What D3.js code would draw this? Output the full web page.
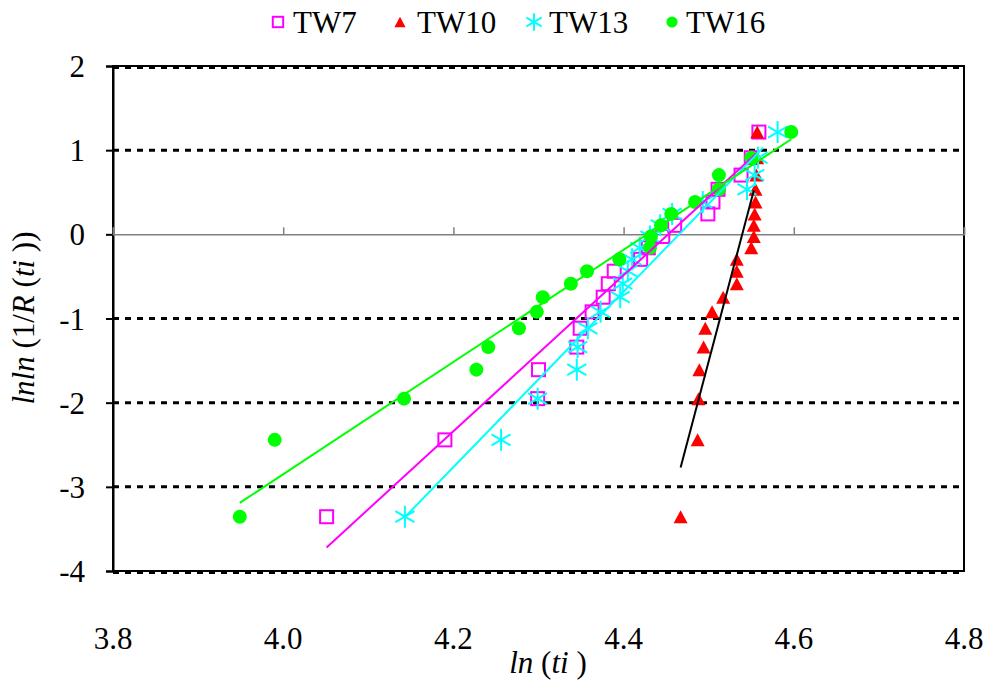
<!DOCTYPE html>
<html>
<head>
<meta charset="utf-8">
<script src="https://cdn.jsdelivr.net/npm/d3@7"></script>
<style>
  html, body { margin: 0; padding: 0; background: #fff; }
  svg { display: block; }
</style>
</head>
<body>
<svg id="chart" width="987" height="684"></svg>
<script>
// ---- data ----
const seriesNames = ["TW7", "TW10", "TW13", "TW16"];
// median-rank Weibull ordinates lnln(1/R(ti)), shared by all series (n = 20)
const yValues = [-3.355, -2.442, -1.952, -1.608, -1.340, -1.116, -0.921, -0.747, -0.587, -0.438,
                 -0.297, -0.160, -0.026, 0.107, 0.243, 0.384, 0.535, 0.704, 0.910, 1.215];
const tw7X  = [4.051, 4.190, 4.299, 4.300, 4.345, 4.349, 4.363, 4.376, 4.382, 4.389,
               4.420, 4.429, 4.446, 4.460, 4.499, 4.505, 4.511, 4.538, 4.550, 4.559];
const tw10X = [4.467, 4.487, 4.488, 4.489, 4.494, 4.496, 4.504, 4.517, 4.533, 4.533,
               4.533, 4.550, 4.553, 4.553, 4.554, 4.555, 4.555, 4.556, 4.557, 4.557];
const tw13X = [4.143, 4.256, 4.299, 4.345, 4.346, 4.358, 4.373, 4.396, 4.399, 4.405,
               4.410, 4.419, 4.431, 4.443, 4.457, 4.493, 4.545, 4.554, 4.558, 4.581];
const tw16X = [3.949, 3.990, 4.142, 4.227, 4.241, 4.277, 4.298, 4.305, 4.338, 4.357,
               4.395, 4.431, 4.432, 4.444, 4.456, 4.484, 4.512, 4.512, 4.550, 4.597];
// linear trend lines: [xStart, yStart, xEnd, yEnd]
const tw7Fit  = [4.051, -3.72, 4.556, 0.96];
const tw10Fit = [4.467, -2.77, 4.553, 0.52];
const tw13Fit = [4.143, -3.36, 4.564, 1.03];
const tw16Fit = [3.949, -3.19, 4.597, 1.13];
const xTicks = [3.8, 4.0, 4.2, 4.4, 4.6, 4.8];
const yTicks = [2, 1, 0, -1, -2, -3, -4];
const gridValues = [2, 1, -1, -2, -3, -4];

// ---- layout ----
const svg = d3.select("#chart");
const plotL = 113, plotR = 964, plotT = 66, plotB = 571;
const x = d3.scaleLinear().domain([3.8, 4.8]).range([plotL, plotR]);
const y = d3.scaleLinear().domain([-4, 2]).range([plotB, plotT]);
const SERIF = '"Liberation Serif", "Times New Roman", Tinos, Times, serif';
const FS = 31;
function serif(sel) {
  return sel.attr("font-family", "Liberation Serif")
    .style("font-family", SERIF, "important")
    .attr("font-size", FS).style("font-size", FS + "px").attr("fill", "#000");
}

const colors = { TW7: "#ff00ff", TW10: "#ff0000", TW13: "#00ffff", TW16: "#00ff00" };
const fitColors = { TW7: "#ff00ff", TW10: "#000000", TW13: "#00ffff", TW16: "#00ff00" };

// plot border
svg.append("rect").attr("x", plotL).attr("y", plotT).attr("width", plotR - plotL).attr("height", plotB - plotT)
  .attr("fill", "none").attr("stroke", "#000").attr("stroke-width", 2);

// dashed gridlines
svg.append("g").selectAll("line").data(gridValues).join("line")
  .attr("x1", plotL).attr("x2", plotR)
  .attr("y1", d => y(d) + (d === 2 || d === -4 ? 1.5 : 0))
  .attr("y2", d => y(d) + (d === 2 || d === -4 ? 1.5 : 0))
  .attr("stroke", "#000").attr("stroke-width", 3).attr("stroke-dasharray", "6,6");

// y axis (left) ticks and labels
const yAxis = d3.axisLeft(y).tickValues(yTicks).tickSize(7).tickPadding(21);
const gy = svg.append("g").attr("transform", `translate(${plotL},0)`).call(yAxis);
gy.attr("font-family", null).attr("font-size", null);
gy.select(".domain").attr("stroke", "#000").attr("stroke-width", 2);
gy.selectAll(".tick line").attr("stroke", "#000").attr("stroke-width", 2);
serif(gy.selectAll(".tick text")).attr("dy", "0.34em")
  .text(d => d < 0 ? "-" + Math.abs(d) : String(d));

// x axis at y = 0 (gray line, ticks upward), labels below the plot
const xAxis = d3.axisTop(x).tickValues(xTicks).tickSize(7).tickFormat("");
const gx = svg.append("g").attr("transform", `translate(0,${y(0)})`).call(xAxis);
gx.select(".domain").attr("stroke", "#808080").attr("stroke-width", 1.5);
gx.selectAll(".tick line").attr("stroke", "#808080").attr("stroke-width", 1.5);
serif(svg.append("g").selectAll("text").data(xTicks).join("text")
  .attr("x", d => x(d)).attr("y", 649).attr("text-anchor", "middle"))
  .text(d => d3.format(".1f")(d));

// axis titles
const yt = serif(svg.append("text").attr("transform", "translate(34,318) rotate(-90)")
  .attr("text-anchor", "middle"));
[["lnln", true], [" (1/", false], ["R", true], [" (", false], ["ti", true], [" ))", false]]
  .forEach(([t, it]) => yt.append("tspan").attr("font-style", it ? "italic" : "normal").text(t));
const xt = serif(svg.append("text").attr("x", 548).attr("y", 673).attr("text-anchor", "middle"));
[["ln", true], [" (", false], ["ti", true], [" )", false]]
  .forEach(([t, it]) => xt.append("tspan").attr("font-style", it ? "italic" : "normal").text(t));

// ---- markers ----
function drawMarker(g, name, cx, cy, scale) {
  const s = scale || 1;
  const c = colors[name];
  if (name === "TW7") {
    const h = 6.5 * s;
    g.append("rect").attr("x", cx - h).attr("y", cy - h).attr("width", 2 * h).attr("height", 2 * h)
      .attr("fill", "none").attr("stroke", c).attr("stroke-width", 2);
  } else if (name === "TW10") {
    const w = 7 * s, hh = 6.5 * s;
    g.append("path").attr("d", `M${cx},${cy - hh}L${cx + w},${cy + hh}L${cx - w},${cy + hh}Z`).attr("fill", c);
  } else if (name === "TW13") {
    const r = 11 * s, dx = r * 0.866, dy = r * 0.5;
    g.append("path").attr("d",
      `M${cx},${cy - r}L${cx},${cy + r}M${cx - dx},${cy - dy}L${cx + dx},${cy + dy}M${cx - dx},${cy + dy}L${cx + dx},${cy - dy}`)
      .attr("stroke", c).attr("stroke-width", 2).attr("fill", "none");
  } else {
    g.append("circle").attr("cx", cx).attr("cy", cy).attr("r", 7 * s).attr("fill", c);
  }
}

const allX = { TW7: tw7X, TW10: tw10X, TW13: tw13X, TW16: tw16X };
const fits = { TW7: tw7Fit, TW10: tw10Fit, TW13: tw13Fit, TW16: tw16Fit };

const markG = svg.append("g");
seriesNames.forEach(name => {
  const g = markG.append("g");
  allX[name].forEach((xv, i) => drawMarker(g, name, x(xv), y(yValues[i])));
});

// trend lines
const line = d3.line().x(d => x(d[0])).y(d => y(d[1]));
seriesNames.forEach(name => {
  const f = fits[name];
  svg.append("path").datum([[f[0], f[1]], [f[2], f[3]]]).attr("d", line)
    .attr("fill", "none").attr("stroke", fitColors[name]).attr("stroke-width", 2);
});

// ---- legend ----
const legendPos = [[278, 293], [400, 417], [534, 549], [672, 686]];
const lg = svg.append("g");
seriesNames.forEach((name, i) => {
  drawMarker(lg, name, legendPos[i][0], 22, 0.8);
  serif(lg.append("text").attr("x", legendPos[i][1]).attr("y", 33)).text(name);
});
</script>
</body>
</html>
